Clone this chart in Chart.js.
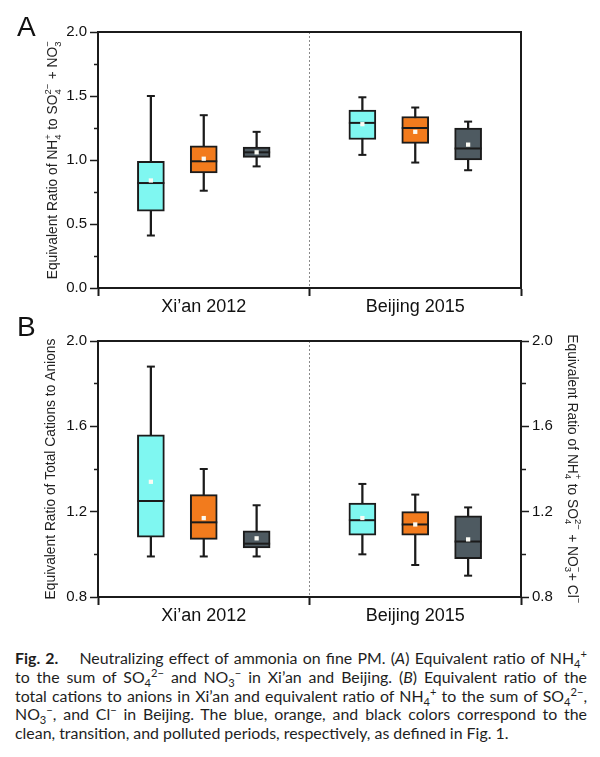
<!DOCTYPE html>
<html>
<head>
<meta charset="utf-8">
<script src="https://cdn.jsdelivr.net/npm/chart.js@4.4.0/dist/chart.umd.min.js"></script>
<style>
  body { margin: 0; width: 600px; height: 757px; background: #fff; position: relative; overflow: hidden;
         font-family: "Liberation Sans", Arial, sans-serif; }
  canvas { position: absolute; left: 0; }
  #chartA { top: 0; }
  #chartB { top: 310px; }
  .panel { position: absolute; left: 17px; font-size: 28px; line-height: 28px; color: #111; }
  #cap { position: absolute; left: 15px; top: 649px; width: 572px; font-family: Lato, sans-serif;
         font-size: 15.9px; line-height: 18.8px; color: #1e1e1e; }
  #cap div { height: 18.8px; white-space: nowrap; text-align: justify; text-align-last: justify; }
  #cap div.last { text-align-last: left; }
  #cap sub, #cap sup { font-size: 70%; line-height: 0; }
</style>
</head>
<body>
<canvas id="chartA" width="600" height="320"></canvas>
<canvas id="chartB" width="600" height="320"></canvas>
<div class="panel" style="top:13px">A</div>
<div class="panel" style="top:313px">B</div>
<div id="cap">
  <div><b>Fig. 2.</b>&nbsp;&nbsp;&nbsp; Neutralizing effect of ammonia on fine PM. (<i>A</i>) Equivalent ratio of NH<sub>4</sub><sup>+</sup></div>
  <div>to the sum of SO<sub>4</sub><sup>2−</sup> and NO<sub>3</sub><sup>−</sup> in Xi’an and Beijing. (<i>B</i>) Equivalent ratio of the</div>
  <div>total cations to anions in Xi’an and equivalent ratio of NH<sub>4</sub><sup>+</sup> to the sum of SO<sub>4</sub><sup>2−</sup>,</div>
  <div>NO<sub>3</sub><sup>−</sup>, and Cl<sup>−</sup> in Beijing. The blue, orange, and black colors correspond to the</div>
  <div class="last">clean, transition, and polluted periods, respectively, as defined in Fig. 1.</div>
</div>
<script>
// categories
var groups = ['Xi’an 2012', 'Beijing 2015'];
var xPos = [1, 2, 3, 5, 6, 7];   // clean, transition, polluted for each city
var fills = ['#7ff7f1', '#f27b1d', '#4e5a61', '#7ff7f1', '#f27b1d', '#4e5a61'];

// panel A : NH4+ / (SO4 2- + NO3-)
var aMin  = [0.41, 0.76, 0.95, 1.04, 0.98, 0.92];
var aQ1   = [0.60, 0.90, 1.02, 1.16, 1.13, 1.00];
var aMed  = [0.82, 0.99, 1.06, 1.29, 1.25, 1.09];
var aQ3   = [0.99, 1.11, 1.10, 1.39, 1.34, 1.25];
var aMax  = [1.50, 1.35, 1.22, 1.49, 1.41, 1.30];
var aMean = [0.84, 1.01, 1.06, 1.28, 1.22, 1.12];

// panel B : total cations / anions (Xi'an), NH4+ / (SO4 + NO3 + Cl) (Beijing)
var bMin  = [0.99, 0.99, 0.99, 1.00, 0.95, 0.90];
var bQ1   = [1.08, 1.07, 1.03, 1.09, 1.09, 0.98];
var bMed  = [1.25, 1.15, 1.05, 1.16, 1.14, 1.06];
var bQ3   = [1.56, 1.28, 1.11, 1.24, 1.20, 1.18];
var bMax  = [1.88, 1.40, 1.23, 1.33, 1.28, 1.22];
var bMean = [1.34, 1.17, 1.075, 1.17, 1.14, 1.07];

// axis titles, [sub, sup] pairs are drawn stacked
var titleA  = ['Equivalent Ratio of NH', ['4', '+'], ' to SO', ['4', '2−'], ' + NO', ['3', '−']];
var titleBl = ['Equivalent Ratio of Total Cations to Anions'];
var titleBr = ['Equivalent Ratio of NH', ['4', '+'], ' to SO', ['4', '2−'], ' + NO', ['3', '−'], '+ Cl', ['', '−']];

var ink = '#1b1b1b';
var font = '"Liberation Sans", Arial, sans-serif';

function pts(vals) { return xPos.map(function (x, i) { return { x: x, y: vals[i] }; }); }
function ranges(lo, hi) { return xPos.map(function (x, i) { return { x: x, y: [lo[i], hi[i]] }; }); }

function boxDatasets(mn, q1, med, q3, mx, mean) {
  return [
    { type: 'bar', data: ranges(mn, mx), barThickness: 1.6, backgroundColor: ink, grouped: false, order: 4 },
    { type: 'bar', data: ranges(q1, q3), barThickness: 27, backgroundColor: fills, borderColor: ink,
      borderWidth: 2, borderSkipped: false, grouped: false, order: 3 },
    { type: 'line', data: pts(mn).concat(pts(mx)), showLine: false, pointStyle: 'line', pointRadius: 4,
      pointBorderColor: ink, pointBorderWidth: 2, order: 2 },
    { type: 'line', data: pts(med), showLine: false, pointStyle: 'line', pointRadius: 13.5,
      pointBorderColor: ink, pointBorderWidth: 2, order: 1 },
    { type: 'line', data: pts(mean), showLine: false, pointStyle: 'rect', pointRadius: 3,
      pointBackgroundColor: '#fbfbf4', pointBorderWidth: 0, order: 0 }
  ];
}

// draws the rotated y titles with proper sub/superscripts
var richTitle = {
  id: 'richTitle',
  afterDraw: function (chart, args, opts) {
    var ctx = chart.ctx;
    var big = '13.8px ' + font, small = '9.5px ' + font;
    (opts.items || []).forEach(function (it) {
      var s = chart.scales[it.axis];
      var cx = it.side === 'left' ? s.left + it.offset : s.right - it.offset;
      var cy = (s.top + s.bottom) / 2;
      var widths = it.parts.map(function (p) {
        if (typeof p === 'string') { ctx.font = big; return ctx.measureText(p).width; }
        ctx.font = small;
        return Math.max(ctx.measureText(p[0]).width, ctx.measureText(p[1]).width) + 0.5;
      });
      var total = widths.reduce(function (a, b) { return a + b; }, 0);
      ctx.save();
      ctx.translate(cx, cy);
      ctx.rotate(it.side === 'left' ? -Math.PI / 2 : Math.PI / 2);
      ctx.fillStyle = '#222';
      ctx.textBaseline = 'alphabetic';
      var x = -total / 2, base = 5;
      it.parts.forEach(function (p, i) {
        if (typeof p === 'string') { ctx.font = big; ctx.fillText(p, x, base); }
        else { ctx.font = small; ctx.fillText(p[0], x, base + 3.5); ctx.fillText(p[1], x, base - 6.5); }
        x += widths[i];
      });
      ctx.restore();
    });
  }
};

function xAxis(h) {
  return {
    type: 'linear', min: 0, max: 8, position: 'bottom', offset: false,
    ticks: { stepSize: 2, autoSkip: false, maxRotation: 0, padding: 0, color: '#111',
      font: { family: font, size: 18 },
      callback: function (v) { return v === 2 ? groups[0] : (v === 6 ? groups[1] : ''); } },
    grid: { drawOnChartArea: true, offset: false, lineWidth: 1, tickLength: 8, tickWidth: 2,
      color: function (c) { return c.tick && c.tick.value === 4 ? '#8a8a8a' : 'rgba(0,0,0,0)'; },
      tickColor: function (c) { return c.tick && (c.tick.value === 2 || c.tick.value === 6) ? 'rgba(0,0,0,0)' : ink; } },
    border: { display: true, color: ink, width: 2, dash: [2, 2] },
    afterFit: function (s) { s.height = h; }
  };
}

function yAxis(pos, min, max, step, isMajor, w) {
  return {
    type: 'linear', position: pos, min: min, max: max,
    ticks: { stepSize: step, padding: 3, color: '#111', font: { family: font, size: 15 },
      callback: function (v) { return isMajor(v) ? v.toFixed(1) : ''; } },
    grid: { drawOnChartArea: false, tickLength: 8, tickWidth: 1.5, tickColor: ink,
      tickBorderDash: function (c) {
        if (!c.tick || isMajor(c.tick.value)) return [];
        return pos === 'left' ? [0, 4, 4, 0] : [4, 20];
      } },
    border: { color: ink, width: 2 },
    afterFit: function (s) { s.width = w; }
  };
}

function frameAxis(pos, min, max) {
  var o = { position: pos, min: min, max: max, grid: { display: false }, ticks: { display: false },
    border: { color: ink, width: 2 } };
  if (pos === 'top') { o.type = 'linear'; o.offset = false; o.afterFit = function (s) { s.height = 0; }; }
  else { o.afterFit = function (s) { s.width = 0; }; }
  return o;
}

function majorA(v) { return Math.abs(v * 2 - Math.round(v * 2)) < 1e-6; }
function majorB(v) { return Math.round(v * 10) % 4 === 0; }

new Chart(document.getElementById('chartA'), {
  type: 'bar',
  data: { datasets: boxDatasets(aMin, aQ1, aMed, aQ3, aMax, aMean) },
  plugins: [richTitle],
  options: {
    responsive: false, animation: false, events: [],
    layout: { padding: { top: 32, right: 79, left: 0, bottom: 0 } },
    plugins: { legend: { display: false }, tooltip: { enabled: false },
      richTitle: { items: [{ axis: 'y', side: 'left', offset: 52, parts: titleA }] } },
    scales: {
      x: xAxis(32),
      x2: frameAxis('top', 0, 8),
      y: yAxis('left', 0, 2, 0.25, majorA, 98),
      y2: frameAxis('right', 0, 2)
    }
  }
});

new Chart(document.getElementById('chartB'), {
  type: 'bar',
  data: { datasets: boxDatasets(bMin, bQ1, bMed, bQ3, bMax, bMean) },
  plugins: [richTitle],
  options: {
    responsive: false, animation: false, events: [],
    layout: { padding: { top: 31, right: 0, left: 0, bottom: 0 } },
    plugins: { legend: { display: false }, tooltip: { enabled: false },
      richTitle: { items: [{ axis: 'y', side: 'left', offset: 50, parts: titleBl },
                           { axis: 'y2', side: 'right', offset: 27, parts: titleBr }] } },
    scales: {
      x: xAxis(33),
      x2: frameAxis('top', 0, 8),
      y: yAxis('left', 0.8, 2.0, 0.2, majorB, 98),
      y2: yAxis('right', 0.8, 2.0, 0.2, majorB, 79)
    }
  }
});
</script>
</body>
</html>
